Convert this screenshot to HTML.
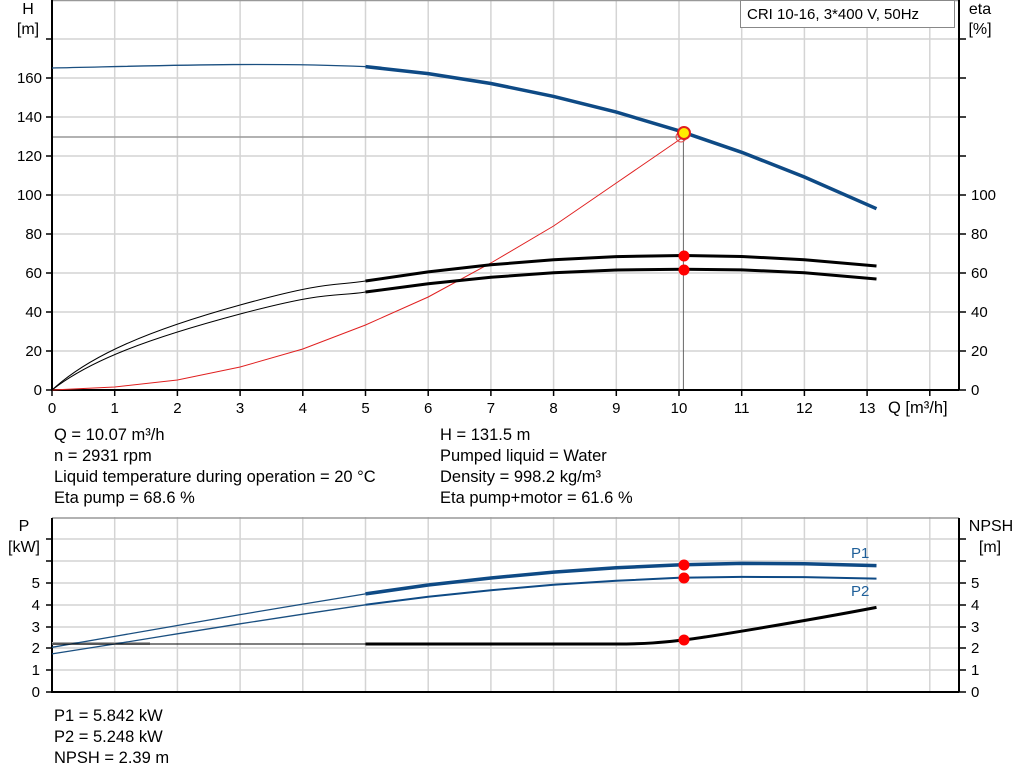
<!DOCTYPE html><html><head><meta charset="utf-8"><style>body{margin:0;background:#fff}svg{display:block;font-family:"Liberation Sans",Arial,sans-serif}</style></head><body>
<svg width="1024" height="781" viewBox="0 0 1024 781">
<g stroke="#d4d4d4" stroke-width="1.5">
<line x1="114.7" y1="0" x2="114.7" y2="390"/><line x1="177.4" y1="0" x2="177.4" y2="390"/><line x1="240.1" y1="0" x2="240.1" y2="390"/><line x1="302.8" y1="0" x2="302.8" y2="390"/><line x1="365.5" y1="0" x2="365.5" y2="390"/><line x1="428.2" y1="0" x2="428.2" y2="390"/><line x1="490.9" y1="0" x2="490.9" y2="390"/><line x1="553.6" y1="0" x2="553.6" y2="390"/><line x1="616.3" y1="0" x2="616.3" y2="390"/><line x1="679" y1="0" x2="679" y2="390"/><line x1="741.7" y1="0" x2="741.7" y2="390"/><line x1="804.4" y1="0" x2="804.4" y2="390"/><line x1="867.1" y1="0" x2="867.1" y2="390"/><line x1="929.8" y1="0" x2="929.8" y2="390"/>
<line x1="52" y1="39" x2="959" y2="39"/><line x1="52" y1="78" x2="959" y2="78"/><line x1="52" y1="117" x2="959" y2="117"/><line x1="52" y1="156" x2="959" y2="156"/><line x1="52" y1="195" x2="959" y2="195"/><line x1="52" y1="234" x2="959" y2="234"/><line x1="52" y1="273" x2="959" y2="273"/><line x1="52" y1="312" x2="959" y2="312"/><line x1="52" y1="351" x2="959" y2="351"/>
<line x1="114.7" y1="517" x2="114.7" y2="692"/><line x1="177.4" y1="517" x2="177.4" y2="692"/><line x1="240.1" y1="517" x2="240.1" y2="692"/><line x1="302.8" y1="517" x2="302.8" y2="692"/><line x1="365.5" y1="517" x2="365.5" y2="692"/><line x1="428.2" y1="517" x2="428.2" y2="692"/><line x1="490.9" y1="517" x2="490.9" y2="692"/><line x1="553.6" y1="517" x2="553.6" y2="692"/><line x1="616.3" y1="517" x2="616.3" y2="692"/><line x1="679" y1="517" x2="679" y2="692"/><line x1="741.7" y1="517" x2="741.7" y2="692"/><line x1="804.4" y1="517" x2="804.4" y2="692"/><line x1="867.1" y1="517" x2="867.1" y2="692"/><line x1="929.8" y1="517" x2="929.8" y2="692"/>
<line x1="52" y1="539" x2="959" y2="539"/><line x1="52" y1="561" x2="959" y2="561"/><line x1="52" y1="583" x2="959" y2="583"/><line x1="52" y1="605" x2="959" y2="605"/><line x1="52" y1="627" x2="959" y2="627"/><line x1="52" y1="648" x2="959" y2="648"/><line x1="52" y1="670" x2="959" y2="670"/>
</g>
<line x1="52" y1="0.5" x2="959" y2="0.5" stroke="#999" stroke-width="1.5"/>
<line x1="52" y1="518" x2="959" y2="518" stroke="#999" stroke-width="1.5"/>
<line x1="52" y1="137" x2="683.4" y2="137" stroke="#999" stroke-width="1.5"/>
<line x1="683.4" y1="133" x2="683.4" y2="390" stroke="#666" stroke-width="1"/>
<g stroke="#000" stroke-width="2" fill="none">
<path d="M52 0V390H959M959 0V390"/><path d="M52 518V692H959M959 518V692"/>
</g>
<g stroke="#000" stroke-width="1.5">
<path d="M46 39H52M46 78H52M46 117H52M46 156H52M46 195H52M46 234H52M46 273H52M46 312H52M46 351H52M46 390H52"/>
<path d="M959 39H966M959 78H966M959 117H966M959 156H966M959 195H966M959 234H966M959 273H966M959 312H966M959 351H966M959 390H966"/>
<path d="M52 390V396M114.7 390V396M177.4 390V396M240.1 390V396M302.8 390V396M365.5 390V396M428.2 390V396M490.9 390V396M553.6 390V396M616.3 390V396M679 390V396M741.7 390V396M804.4 390V396M867.1 390V396M929.8 390V396"/>
<path d="M46 539H52M46 561H52M46 583H52M46 605H52M46 627H52M46 648H52M46 670H52M46 692H52"/>
<path d="M959 539H966M959 561H966M959 583H966M959 605H966M959 627H966M959 648H966M959 670H966M959 692H966"/>
</g>
<g font-size="15" fill="#000">
<g text-anchor="end"><text x="42" y="83">160</text><text x="42" y="122">140</text><text x="42" y="161">120</text><text x="42" y="200">100</text><text x="42" y="239">80</text><text x="42" y="278">60</text><text x="42" y="317">40</text><text x="42" y="356">20</text><text x="42" y="395">0</text>
<text x="40" y="588">5</text><text x="40" y="610">4</text><text x="40" y="632">3</text><text x="40" y="653">2</text><text x="40" y="675">1</text><text x="40" y="697">0</text></g>
<text x="971" y="200">100</text><text x="971" y="239">80</text><text x="971" y="278">60</text><text x="971" y="317">40</text><text x="971" y="356">20</text><text x="971" y="395">0</text>
<text x="971" y="588">5</text><text x="971" y="610">4</text><text x="971" y="632">3</text><text x="971" y="653">2</text><text x="971" y="675">1</text><text x="971" y="697">0</text>
<g text-anchor="middle"><text x="52" y="413">0</text><text x="114.7" y="413">1</text><text x="177.4" y="413">2</text><text x="240.1" y="413">3</text><text x="302.8" y="413">4</text><text x="365.5" y="413">5</text><text x="428.2" y="413">6</text><text x="490.9" y="413">7</text><text x="553.6" y="413">8</text><text x="616.3" y="413">9</text><text x="679" y="413">10</text><text x="741.7" y="413">11</text><text x="804.4" y="413">12</text><text x="867.1" y="413">13</text>
<text x="28" y="14" font-size="16">H</text><text x="28" y="34" font-size="16">[m]</text><text x="980" y="14" font-size="16">eta</text><text x="980" y="34" font-size="16">[%]</text>
<text x="24" y="531" font-size="16">P</text><text x="24" y="552" font-size="16">[kW]</text><text x="991" y="531" font-size="16">NPSH</text><text x="990" y="552" font-size="16">[m]</text></g>
<g font-size="16.5">
<text x="888" y="413">Q [m³/h]</text>
<text x="54" y="440">Q = 10.07 m³/h</text><text x="54" y="461">n = 2931 rpm</text><text x="54" y="482">Liquid temperature during operation = 20 °C</text><text x="54" y="503">Eta pump = 68.6 %</text>
<text x="440" y="440">H = 131.5 m</text><text x="440" y="461">Pumped liquid = Water</text><text x="440" y="482">Density = 998.2 kg/m³</text><text x="440" y="503">Eta pump+motor = 61.6 %</text>
<text x="54" y="721">P1 = 5.842 kW</text><text x="54" y="742">P2 = 5.248 kW</text><text x="54" y="763">NPSH = 2.39 m</text>
</g>
<text x="851" y="558" fill="#1f5f99">P1</text><text x="851" y="596" fill="#1f5f99">P2</text>
</g>
<rect x="740.5" y="0.5" width="214" height="27" fill="#fff" stroke="#888"/>
<text x="747" y="19" font-size="15">CRI 10-16, 3*400 V, 50Hz</text>
<path fill="none" stroke="#1a4f80" stroke-width="1.3" d="M52,68 C150,66 260,62 365.5,66.6"/>
<polyline fill="none" stroke="#0e4a85" stroke-width="3.5" points="365.5,66.6 428.2,73.6 490.9,83.5 553.6,96.4 616.3,112.1 679,130.8 741.7,152.3 804.4,177 876.5,208.7"/>
<polyline fill="none" stroke="#e02020" stroke-width="1" points="52,390 114.7,387 177.4,380 240.1,367 302.8,349 365.5,325 428.2,297 490.9,263 553.6,226 616.3,183 679,140 683.4,137"/>
<path fill="none" stroke="#000" stroke-width="1" d="M52,390 C90,355 150,330 240.1,305 S335,286 365.5,281"/>
<path fill="none" stroke="#000" stroke-width="1" d="M52,390 C90,360 150,338 240.1,314 S335,297 365.5,292"/>
<polyline fill="none" stroke="#000" stroke-width="3" points="365.5,281 428.2,271.9 490.9,264.8 553.6,259.7 616.3,256.6 683.4,255.5 741.7,256.5 804.4,259.7 876.5,266"/>
<polyline fill="none" stroke="#000" stroke-width="3" points="365.5,292 428.2,283.8 490.9,277.3 553.6,272.7 616.3,270 683.4,269.3 741.7,269.9 804.4,272.7 876.5,279"/>
<circle cx="681" cy="137" r="5" fill="none" stroke="#e05050" stroke-width="1"/>
<circle cx="684" cy="133" r="6" fill="#ffee00" stroke="#e02020" stroke-width="2"/>
<circle cx="684" cy="256" r="5.5" fill="#f00"/><circle cx="684" cy="270" r="5.5" fill="#f00"/>
<line x1="52" y1="643.5" x2="150" y2="643.5" stroke="#aaa" stroke-width="3"/>
<polyline fill="none" stroke="#1a4f80" stroke-width="1.3" points="52,647.3 114.7,636.4 177.4,625.5 240.1,614.6 302.8,604.1 365.5,593.9"/>
<polyline fill="none" stroke="#1a4f80" stroke-width="1.3" points="52,653.9 114.7,644 177.4,633.8 240.1,623.8 302.8,614.2 365.5,604.8"/>
<polyline fill="none" stroke="#0e4a85" stroke-width="3.5" points="365.5,593.9 428.2,585 490.9,578 553.6,572.1 616.3,567.7 679,564.9 741.7,563.4 804.4,563.8 876.5,565.6"/>
<polyline fill="none" stroke="#0e4a85" stroke-width="2" points="365.5,604.8 428.2,596.7 490.9,590.2 553.6,584.7 616.3,580.8 679,577.8 741.7,576.9 804.4,577.1 876.5,578.6"/>
<line x1="52" y1="644" x2="365.5" y2="644" stroke="#000" stroke-width="1"/>
<path fill="none" stroke="#000" stroke-width="3" d="M365.5,644 L616.3,644 C650,644 665,642 683.4,640 S800,622 876.5,607.4"/>
<circle cx="684" cy="565" r="5.5" fill="#f00"/><circle cx="684" cy="578" r="5.5" fill="#f00"/><circle cx="684" cy="640" r="5.5" fill="#f00"/>
</svg>
</body></html>
